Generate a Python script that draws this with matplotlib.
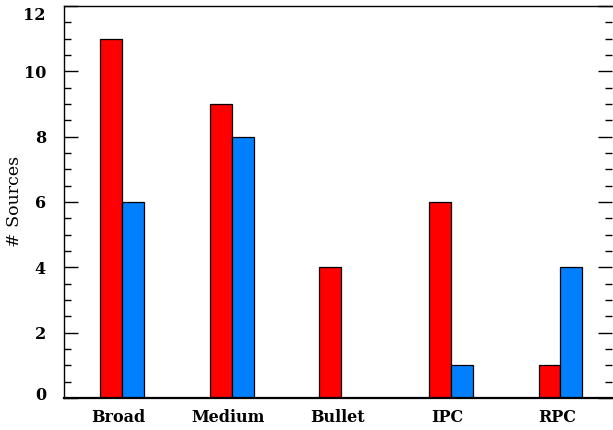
import matplotlib
matplotlib.use("Agg")
import matplotlib.pyplot as plt
import matplotlib.transforms as mtransforms
import numpy as np
from matplotlib.ticker import MultipleLocator

categories = ["Broad", "Medium", "Bullet", "IPC", "RPC"]
red_values = [11, 9, 4, 6, 1]
blue_values = [6, 8, 0, 1, 4]
yticks = [0, 2, 4, 6, 8, 10, 12]

W, H = 613, 430
fig = plt.figure(figsize=(W / 100, H / 100), dpi=100)
ax = fig.add_axes([64 / W, 1 - 398 / H, (612 - 64) / W, (398 - 6) / H])

fam = ["DejaVu Serif", "Liberation Serif"]

x = np.arange(len(categories))
bw = 0.2
ax.bar(x + 0.33, red_values, width=bw, align="edge", color="#FF0000",
       edgecolor="black", linewidth=0.9, zorder=2)
ax.bar(x + 0.53, blue_values, width=bw, align="edge", color="#0080FF",
       edgecolor="black", linewidth=0.9, zorder=2)

ax.set_xlim(0, 5)
ax.set_ylim(0, 12)
ax.set_xticks(x + 0.5)
ax.set_xticklabels(categories, family=fam, fontweight="bold", fontsize=11.5)
ax.tick_params(axis="x", length=0, pad=8)
ax.set_yticks(yticks)
ax.set_yticklabels([str(t) for t in yticks], family=fam, fontweight="bold", fontsize=11.5)
ax.yaxis.set_minor_locator(MultipleLocator(0.5))
ax.tick_params(axis="y", which="major", direction="in", length=10, width=1, left=True, right=True, pad=13)
ax.tick_params(axis="y", which="minor", direction="in", length=5, width=1, left=True, right=True)

# end labels shifted inward like the reference
labels = ax.get_yticklabels()
labels[0].set_transform(labels[0].get_transform() +
                        mtransforms.ScaledTranslation(0, 5 / 100, fig.dpi_scale_trans))
labels[-1].set_transform(labels[-1].get_transform() +
                         mtransforms.ScaledTranslation(0, -8 / 100, fig.dpi_scale_trans))

fig.text(15 / W, 1 - 201 / H, "# Sources", family=fam, fontsize=12.5,
         rotation=90, ha="center", va="center")

ax.spines["right"].set_visible(False)
ax.spines["bottom"].set_linewidth(1.6)
ax.spines["left"].set_linewidth(1)
ax.spines["top"].set_linewidth(1)

fig.savefig("out.png", dpi=100)
